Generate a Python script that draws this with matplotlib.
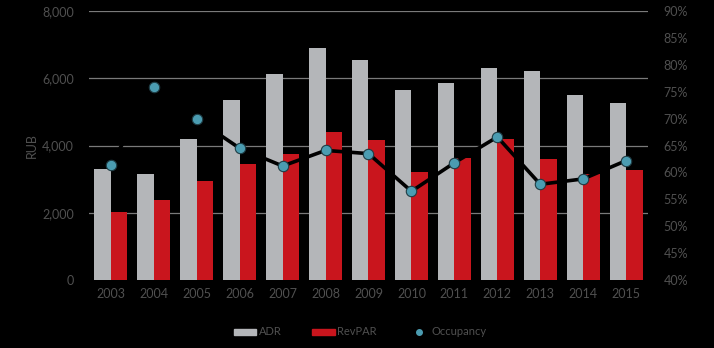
import numpy as np
import matplotlib.pyplot as plt
from matplotlib.lines import Line2D
from matplotlib.patches import Patch

years = ['2003', '2004', '2005', '2006', '2007', '2008', '2009',
         '2010', '2011', '2012', '2013', '2014', '2015']
adr = [3300, 3150, 4190, 5370, 6140, 6890, 6560, 5640, 5870, 6300, 6220, 5500, 5280]
revpar = [2030, 2380, 2950, 3460, 3760, 4400, 4170, 3200, 3630, 4210, 3600, 3150, 3280]
occupancy = [61.4, 75.9, 69.9, 64.5, 61.2, 64.1, 63.5, 56.5, 61.8, 66.6, 57.8, 58.8, 62.2]

plt.rcParams['font.family'] = ['Lato', 'DejaVu Sans']
txt = '#505050'
gray = '#b4b6b9'
red = '#c9151d'
teal = '#4b9cb1'

fig = plt.figure(figsize=(7.14, 3.48), dpi=100, facecolor='black')
ax = fig.add_axes([0.1246, 0.1954, 0.783, 0.7726], facecolor='black')

x = np.arange(len(years))
w = 0.385
ax.bar(x - w / 2, adr, w, color=gray, zorder=2)
ax.bar(x + w / 2, revpar, w, color=red, zorder=2)

ax.set_ylim(0, 8000)
ax.set_xlim(-0.51, 12.51)
ax.set_yticks([0, 2000, 4000, 6000, 8000])
ax.set_yticklabels(['0', '2,000', '4,000', '6,000', '8,000'])
for v in [2000, 4000, 6000, 8000]:
    ax.axhline(v, color='#7a7a7a', lw=0.9, zorder=1)
ax.set_xticks(x)
ax.set_xticklabels(years)
ax.tick_params(colors=txt, labelsize=9, length=0)
ax.tick_params(axis='y', pad=11)
ax.tick_params(axis='x', pad=6)
ax.set_ylabel('RUB', color=txt, fontsize=9, labelpad=3)
for s in ax.spines.values():
    s.set_visible(False)

ax2 = ax.twinx()
ax2.plot(x, occupancy, color='black', lw=2.6, zorder=3)
ax2.plot(x, occupancy, 'o', color=teal, markersize=7.5, markeredgecolor='#1f3d45',
         markeredgewidth=0.8, zorder=4)
ax2.set_ylim(40, 90)
ax2.set_yticks(range(40, 91, 5))
ax2.set_yticklabels(['%d%%' % v for v in range(40, 91, 5)])
ax2.tick_params(colors=txt, labelsize=9, length=0, pad=11)
for s in ax2.spines.values():
    s.set_visible(False)

handles = [Patch(color=gray), Patch(color=red),
           Line2D([], [], marker='o', color=teal, ls='none', markersize=4)]
leg = fig.legend(handles, ['ADR', 'RevPAR', 'Occupancy'], loc='center',
                 bbox_to_anchor=(0.505, 0.046), ncol=3, frameon=False,
                 fontsize=8, handlelength=2.0, handleheight=0.45, handletextpad=0.2,
                 columnspacing=2.8)
for t in leg.get_texts():
    t.set_color(txt)

fig.savefig('out.png', dpi=100, facecolor='black')
